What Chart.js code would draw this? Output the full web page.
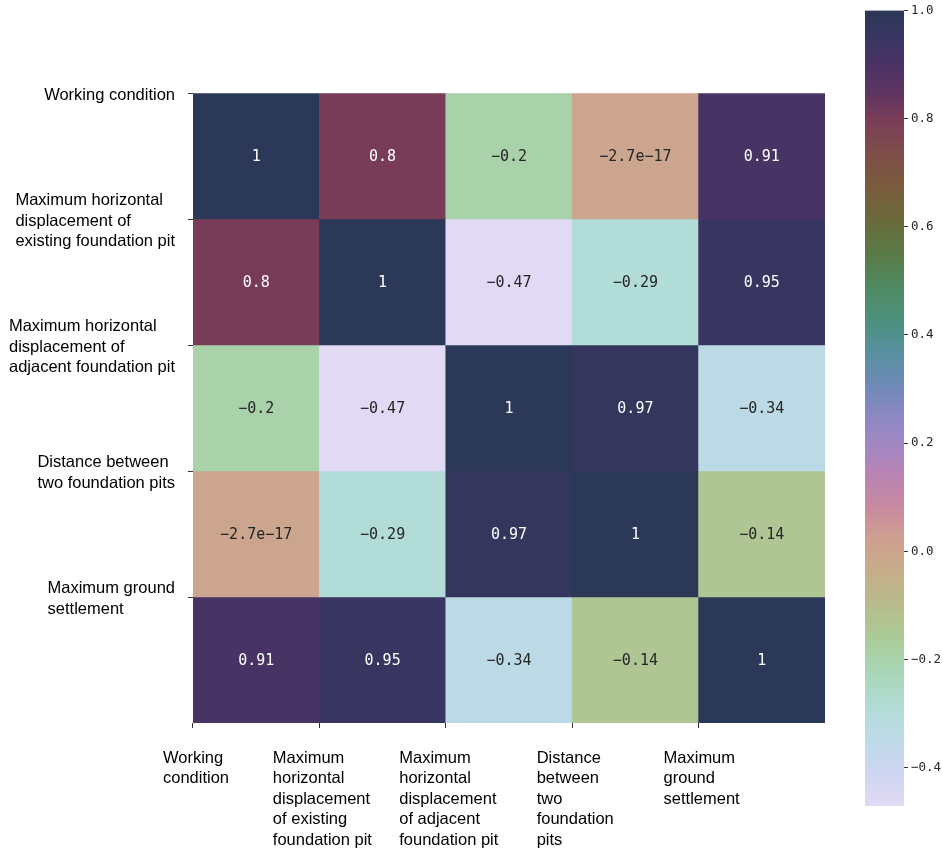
<!DOCTYPE html>
<html>
<head>
<meta charset="utf-8">
<script src="https://cdn.jsdelivr.net/npm/chart.js@4.4.1/dist/chart.umd.min.js"></script>
<style>
  html, body { margin: 0; padding: 0; background: #ffffff; }
  #wrap { position: relative; width: 942px; height: 850px; overflow: hidden; }
  #heat { position: absolute; left: 0; top: 0; }
  #cbar { position: absolute; left: 840px; top: 0; }
</style>
</head>
<body>
<div id="wrap">
  <canvas id="heat" width="942" height="850"></canvas>
  <canvas id="cbar" width="102" height="850"></canvas>
</div>
<script>
// ---------------- DATA ----------------
const categories = [
  "Working condition",
  "Maximum horizontal displacement of existing foundation pit",
  "Maximum horizontal displacement of adjacent foundation pit",
  "Distance between two foundation pits",
  "Maximum ground settlement"
];

// tick labels as shown on the y axis (left)
const rowTickLabels = [
  ["Working condition"],
  ["Maximum horizontal", "displacement of", "existing foundation pit"],
  ["Maximum horizontal", "displacement of", "adjacent foundation pit"],
  ["Distance between", "two foundation pits"],
  ["Maximum ground", "settlement"]
];

// tick labels as shown on the x axis (bottom)
const colTickLabels = [
  ["Working", "condition"],
  ["Maximum", "horizontal", "displacement", "of existing", "foundation pit"],
  ["Maximum", "horizontal", "displacement", "of adjacent", "foundation pit"],
  ["Distance", "between", "two", "foundation", "pits"],
  ["Maximum", "ground", "settlement"]
];

const rowWorking      = [1, 0.8, -0.2, -2.7e-17, 0.91];
const rowExistingPit  = [0.8, 1, -0.47, -0.29, 0.95];
const rowAdjacentPit  = [-0.2, -0.47, 1, 0.97, -0.34];
const rowDistance     = [-2.7e-17, -0.29, 0.97, 1, -0.14];
const rowSettlement   = [0.91, 0.95, -0.34, -0.14, 1];
const corrValues = [rowWorking, rowExistingPit, rowAdjacentPit, rowDistance, rowSettlement];

const annotWorking     = ["1", "0.8", "\u22120.2", "\u22122.7e\u221217", "0.91"];
const annotExistingPit = ["0.8", "1", "\u22120.47", "\u22120.29", "0.95"];
const annotAdjacentPit = ["\u22120.2", "\u22120.47", "1", "0.97", "\u22120.34"];
const annotDistance    = ["\u22122.7e\u221217", "\u22120.29", "0.97", "1", "\u22120.14"];
const annotSettlement  = ["0.91", "0.95", "\u22120.34", "\u22120.14", "1"];
const annotText = [annotWorking, annotExistingPit, annotAdjacentPit, annotDistance, annotSettlement];

const colorbarTicks = [-0.4, -0.2, 0.0, 0.2, 0.4, 0.6, 0.8, 1.0];
const colorMin = -0.471;
const colorMax = 1.0;

// colour map stops: [value, colour]
const colorStopValues = [-0.471, -0.410, -0.349, -0.288, -0.226, -0.165, -0.104, -0.041, 0.020, 0.081,
  0.144, 0.181, 0.242, 0.303, 0.366, 0.427, 0.488, 0.551, 0.612, 0.673, 0.736, 0.797, 0.843, 0.898, 0.945, 1.0];
const colorStopColors = ["#e2daf4", "#ced6f2", "#bedae8", "#b2dcd6", "#a8d6b8", "#aacc98", "#b6bc8c", "#c6ae8a", "#cea08e", "#c88aa0",
  "#b884b4", "#a886c0", "#9088c4", "#7089b8", "#5890a0", "#4c907e", "#4f8a62", "#5a7a46", "#6a6a3c", "#7a5c3c", "#7f4e4a", "#7a3d58", "#613561", "#4c3366", "#3a3562", "#2c3858"];

// ---------------- helpers ----------------
function hexToRgb(h) {
  const n = parseInt(h.slice(1), 16);
  return [(n >> 16) & 255, (n >> 8) & 255, n & 255];
}
function colorFor(v) {
  const vs = colorStopValues;
  if (v <= vs[0]) return colorStopColors[0];
  if (v >= vs[vs.length - 1]) return colorStopColors[vs.length - 1];
  for (let i = 0; i < vs.length - 1; i++) {
    if (v >= vs[i] && v <= vs[i + 1]) {
      const t = (v - vs[i]) / (vs[i + 1] - vs[i]);
      const a = hexToRgb(colorStopColors[i]), b = hexToRgb(colorStopColors[i + 1]);
      const c = a.map((x, k) => Math.round(x + (b[k] - x) * t));
      return "rgb(" + c.join(",") + ")";
    }
  }
  return colorStopColors[0];
}
function luminanceOf(css) {
  let rgb;
  if (css[0] === "#") rgb = hexToRgb(css);
  else rgb = css.replace(/[^0-9,]/g, "").split(",").map(Number);
  const lin = rgb.map(c => { c /= 255; return c <= 0.03928 ? c / 12.92 : Math.pow((c + 0.055) / 1.055, 2.4); });
  return 0.2126 * lin[0] + 0.7152 * lin[1] + 0.0722 * lin[2];
}

// ---------------- plugins ----------------
const annotPlugin = {
  id: "annot",
  afterDatasetsDraw(chart) {
    const ctx = chart.ctx;
    ctx.save();
    ctx.font = '15px "DejaVu Sans Mono", monospace';
    ctx.textAlign = "center";
    ctx.textBaseline = "middle";
    chart.data.datasets.forEach((ds, r) => {
      const meta = chart.getDatasetMeta(r);
      meta.data.forEach((bar, c) => {
        const p = bar.getProps(["x", "y", "base"], true);
        const col = colorFor(corrValues[r][c]);
        ctx.fillStyle = luminanceOf(col) < 0.25 ? "#ffffff" : "#262626";
        ctx.fillText(annotText[r][c], p.x, (p.y + p.base) / 2 + 1);
      });
    });
    ctx.restore();
  }
};

const axisLabelPlugin = {
  id: "axisLabels",
  afterDraw(chart) {
    const ctx = chart.ctx;
    const xs = chart.scales.x, ys = chart.scales.y;
    const lh = 20.5;
    ctx.save();
    ctx.font = '16.5px "Liberation Sans", Arial, sans-serif';
    ctx.fillStyle = "#000000";
    ctx.textBaseline = "middle";
    ctx.textAlign = "left";
    const half = (xs.getPixelForValue(1) - xs.getPixelForValue(0)) / 2;
    colTickLabels.forEach((lines, i) => {
      const tx = xs.getPixelForValue(i) - half;
      const w = Math.max(...lines.map(l => ctx.measureText(l).width));
      const left = tx - w / 2 + 3;
      lines.forEach((l, k) => ctx.fillText(l, left, xs.top + 35 + k * lh));
    });
    rowTickLabels.forEach((lines, i) => {
      const ty = ys.getPixelForValue(i);
      const w = Math.max(...lines.map(l => ctx.measureText(l).width));
      const left = ys.right - 18 - w;
      const first = ty + 2 - (lines.length - 1) * lh / 2;
      lines.forEach((l, k) => ctx.fillText(l, left, first + k * lh));
    });
    ctx.restore();
  }
};

// ---------------- heat map ----------------
const heatDatasets = categories.map((name, r) => ({
  label: name,
  data: categories.map(() => [r, r + 1]),
  backgroundColor: corrValues[r].map(colorFor),
  borderWidth: 0,
  grouped: false,
  barPercentage: 1,
  categoryPercentage: 1
}));

const tickCol = (ctx) => (ctx.type === "tick" ? "#333333" : "rgba(0,0,0,0)");

new Chart(document.getElementById("heat"), {
  type: "bar",
  data: { labels: categories, datasets: heatDatasets },
  options: {
    responsive: false,
    animation: false,
    events: [],
    layout: { padding: { top: 93, right: 117, left: 0, bottom: 0 } },
    plugins: { legend: { display: false }, tooltip: { enabled: false } },
    scales: {
      x: {
        type: "category",
        offset: true,
        grid: { offset: true, drawOnChartArea: false, drawTicks: true, tickLength: 5, tickColor: tickCol, color: tickCol, lineWidth: 1 },
        border: { display: false },
        ticks: { display: false },
        afterFit: (s) => { s.height = 127; }
      },
      y: {
        type: "linear",
        min: 0,
        max: 5,
        reverse: true,
        grid: { drawOnChartArea: false, drawTicks: true, tickLength: 5, tickColor: "#333333", color: "#333333", lineWidth: 1 },
        border: { display: false },
        ticks: { display: false },
        afterBuildTicks: (s) => { s.ticks = [0, 1, 2, 3, 4].map(v => ({ value: v })); },
        afterFit: (s) => { s.width = 193; }
      }
    }
  },
  plugins: [annotPlugin, axisLabelPlugin]
});

// ---------------- colour bar ----------------
new Chart(document.getElementById("cbar"), {
  type: "bar",
  data: {
    labels: ["colorbar"],
    datasets: [{
      data: [[colorMin, colorMax]],
      borderWidth: 0,
      barPercentage: 1,
      categoryPercentage: 1,
      backgroundColor: (c) => {
        const chart = c.chart;
        const ys = chart.scales && chart.scales.y;
        if (!chart.chartArea || !ys) return "#888888";
        const y0 = ys.getPixelForValue(colorMin), y1 = ys.getPixelForValue(colorMax);
        const g = chart.ctx.createLinearGradient(0, y0, 0, y1);
        colorStopValues.forEach((v, i) => {
          g.addColorStop((v - colorMin) / (colorMax - colorMin), colorStopColors[i]);
        });
        return g;
      }
    }]
  },
  options: {
    responsive: false,
    animation: false,
    events: [],
    layout: { padding: { top: 10, bottom: 44, left: 25, right: 0 } },
    plugins: { legend: { display: false }, tooltip: { enabled: false } },
    scales: {
      x: { type: "category", offset: true, display: false },
      y: {
        type: "linear",
        position: "right",
        min: colorMin,
        max: colorMax,
        grid: { drawOnChartArea: false, drawTicks: true, tickLength: 4, tickColor: "#333333", color: "#333333" },
        border: { display: false },
        afterBuildTicks: (s) => { s.ticks = colorbarTicks.map(v => ({ value: v })); },
        afterFit: (s) => { s.width = 38; },
        ticks: {
          padding: 3,
          color: "#262626",
          font: { family: '"DejaVu Sans Mono", monospace', size: 12.5 },
          callback: (v) => Number(v).toFixed(1).replace("-", "\u2212")
        }
      }
    }
  }
});
</script>
</body>
</html>
